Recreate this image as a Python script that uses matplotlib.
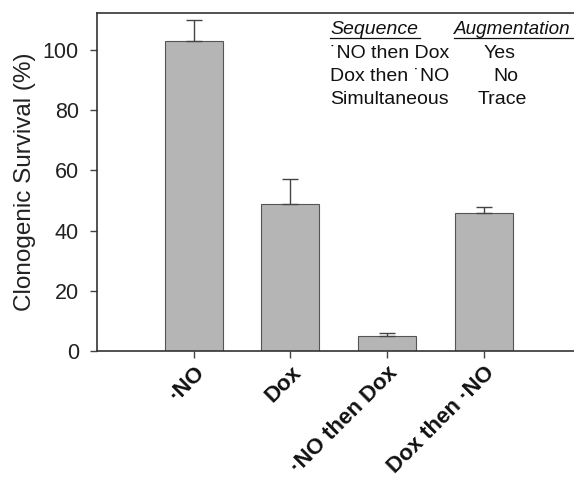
import matplotlib
matplotlib.use("Agg")
import matplotlib.pyplot as plt
from matplotlib.lines import Line2D

categories = ["\u00b7NO", "Dox", "\u00b7NO then Dox", "Dox then \u00b7NO"]
survival = [103, 49, 5, 46]
err_up = [7, 8, 1, 2]
yticks = [0, 20, 40, 60, 80, 100]
seq_rows = ["\u02d9NO then Dox", "Dox then \u02d9NO", "Simultaneous"]
aug_rows = ["Yes", "No", "Trace"]

plt.rcParams['font.family'] = ['Liberation Sans', 'DejaVu Sans']
W, H = 574, 488
fig = plt.figure(figsize=(W/100, H/100), dpi=100)
left, bottom, top = 97, 351, 13
right = 97 + 5*96.7
ax = fig.add_axes([left/W, 1-bottom/H, (right-left)/W, (bottom-top)/H])

x = list(range(1, len(categories)+1))
ax.bar(x, survival, width=0.6, color="#b5b5b5", edgecolor="#555555", linewidth=0.8, zorder=2)
ax.errorbar(x, survival, yerr=[[0]*len(err_up), err_up], fmt='none', ecolor="#444444",
            elinewidth=1.0, capsize=5.5, capthick=1.0, zorder=3)
ax.set_xlim(0, 5)
ax.set_ylim(0, 112.3)
ax.set_yticks(yticks)
ax.set_yticklabels([str(v) for v in yticks], fontsize=15.5, color="#222222")
ax.set_xticks(x)
ax.set_xticklabels(categories, rotation=45, ha='right', rotation_mode='anchor',
                   fontsize=16, fontweight='bold', color="#111111")
ax.tick_params(axis='both', direction='out', length=5, width=1, color="#444444")
ax.tick_params(axis='x', pad=3)
ax.tick_params(axis='y', pad=8)
for s in ax.spines.values():
    s.set_color("#333333")
    s.set_linewidth(1.2)
ax.set_ylabel("Clonogenic Survival (%)", fontsize=17.5, color="#222222", labelpad=5)

# inset table
def fx(px):
    return px / W
def fy(py):
    return 1 - py / H

fs = 14
t1 = fig.text(fx(330), fy(29), "Sequence", fontsize=fs, style='italic', va='center', ha='left', color="#111111")
t2 = fig.text(fx(571), fy(29), "Augmentation", fontsize=13.6, style='italic', va='center', ha='right', color="#111111")
ys = [53, 76, 99]
xs_aug = [484, 493, 478]
for yy, s, a, xa in zip(ys, seq_rows, aug_rows, xs_aug):
    fig.text(fx(330), fy(yy), s, fontsize=fs, va='center', ha='left', color="#111111")
    fig.text(fx(xa), fy(yy), a, fontsize=fs, va='center', ha='left', color="#111111")

fig.canvas.draw()
r = fig.canvas.get_renderer()
for t in (t1, t2):
    bb = t.get_window_extent(r).transformed(fig.transFigure.inverted())
    x1 = min(bb.x1 + 0.003, 0.999)
    fig.add_artist(Line2D([bb.x0, x1], [bb.y0 - 0.002]*2, transform=fig.transFigure,
                          color="#111111", linewidth=0.9))

fig.savefig("out.png", dpi=100)
